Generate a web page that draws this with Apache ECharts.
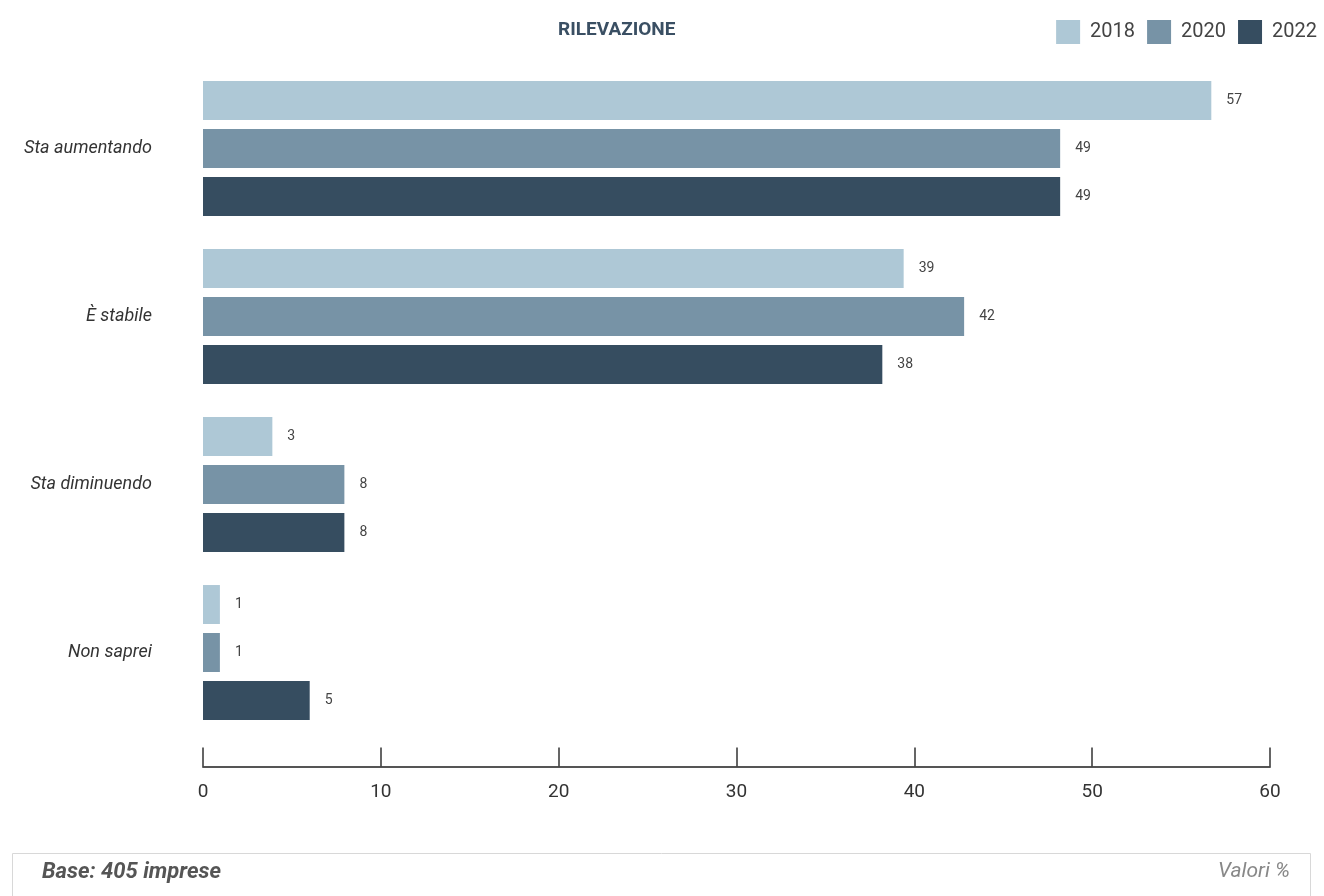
<!DOCTYPE html>
<html>
<head>
<meta charset="utf-8">
<script src="https://cdn.jsdelivr.net/npm/echarts@6/dist/echarts.min.js"></script>
<style>html,body{margin:0;padding:0;background:#fff}#c{width:1324px;height:896px}</style>
</head>
<body>
<div id="c"></div>
<script>
const categories = ['Sta aumentando', 'È stabile', 'Sta diminuendo', 'Non saprei'];
const years = ['2018', '2020', '2022'];
const values2018 = [56.7, 39.4, 3.9, 0.95];
const values2020 = [48.2, 42.8, 7.95, 0.95];
const values2022 = [48.2, 38.2, 7.95, 6.0];
const labels2018 = ['57', '39', '3', '1'];
const labels2020 = ['49', '42', '8', '1'];
const labels2022 = ['49', '38', '8', '5'];
const xTicks = [0, 10, 20, 30, 40, 50, 60];
const colors = ['#aec8d6', '#7793a6', '#364d60'];

const seriesData = [values2018, values2020, values2022];
const seriesLabels = [labels2018, labels2020, labels2022];

const chart = echarts.init(document.getElementById('c'));
chart.setOption({
  animation: false,
  textStyle: { fontFamily: 'Roboto' },
  title: {
    text: 'RILEVAZIONE',
    left: 553, top: 16,
    textStyle: { fontSize: 19, fontWeight: 'bold', color: '#3a4f63', fontFamily: 'Roboto' }
  },
  legend: {
    data: years,
    right: 2, top: 15,
    itemWidth: 24, itemHeight: 24, itemGap: 12,
    icon: 'rect',
    textStyle: { fontSize: 20, color: '#444', fontFamily: 'Roboto', padding: [0, 0, 0, 5] }
  },
  grid: { left: 203, right: 54, top: 64.5, height: 672 },
  xAxis: {
    type: 'value', min: 0, max: 60, interval: 10,
    offset: 30,
    axisLine: { show: true, lineStyle: { color: '#555', width: 2 } },
    axisTick: { show: true, inside: true, length: 19, lineStyle: { color: '#333', width: 1.5 } },
    axisLabel: { fontSize: 19, color: '#333', margin: 16,
      formatter: v => xTicks.includes(v) ? String(v) : '' },
    splitLine: { show: false }
  },
  yAxis: {
    type: 'category', data: categories, inverse: true,
    axisLine: { show: false }, axisTick: { show: false },
    axisLabel: { fontSize: 18, fontStyle: 'italic', color: '#333', margin: 51 }
  },
  series: years.map((y, i) => ({
    name: y, type: 'bar',
    data: seriesData[i],
    barWidth: 39, barGap: '23%',
    itemStyle: { color: colors[i] },
    label: {
      show: true, position: 'right', distance: 15,
      fontSize: 14, color: '#444',
      formatter: p => seriesLabels[i][p.dataIndex]
    }
  })),
  graphic: [
    { type: 'rect', shape: { x: 12.5, y: 853.5, width: 1298, height: 60 },
      style: { fill: '#fff', stroke: '#d8d8d8', lineWidth: 1 } },
    { type: 'text', left: 42, top: 861,
      style: { text: 'Base: 405 imprese', font: 'italic bold 22px Roboto', fill: '#555' } },
    { type: 'text', right: 34, top: 861,
      style: { text: 'Valori %', font: 'italic 21px Roboto', fill: '#888' } }
  ]
});
</script>
</body>
</html>
